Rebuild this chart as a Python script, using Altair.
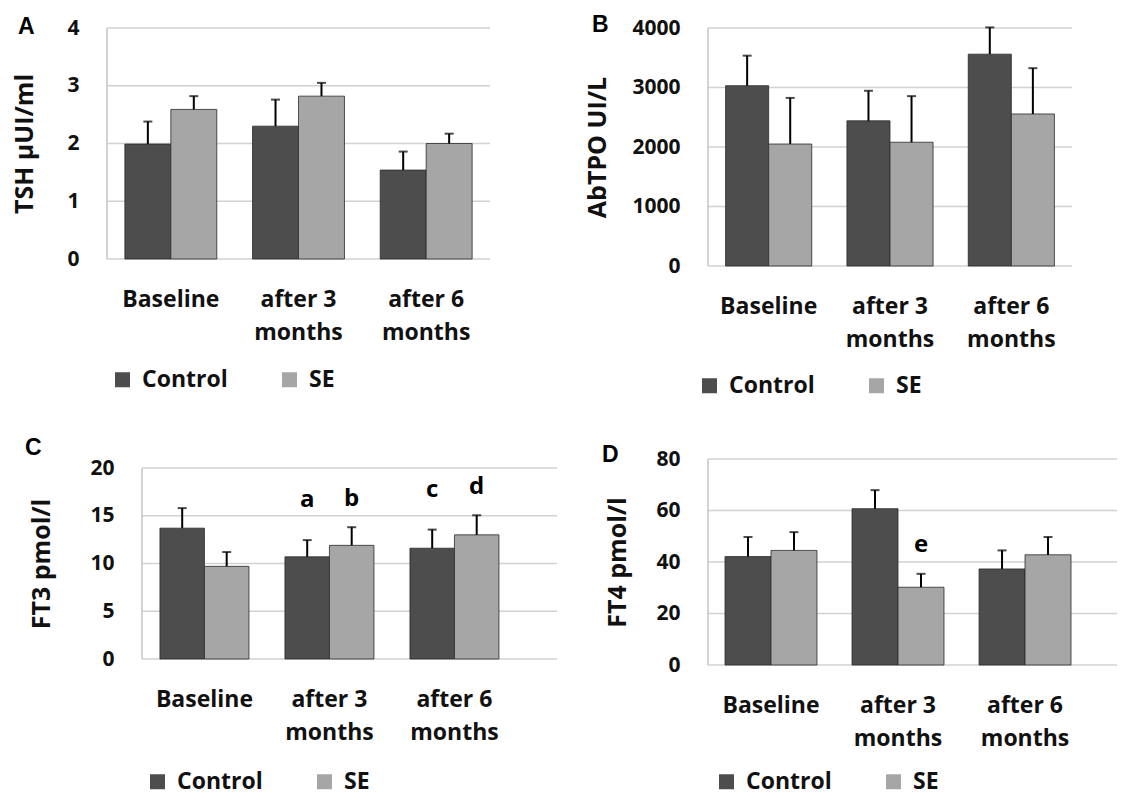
import altair as alt
import pandas as pd

# ---------------- data ----------------
timepoints = ["Baseline", "after 3 months", "after 6 months"]
groups = ["Control", "SE"]
panel_letters = ["A", "B", "C", "D"]
y_titles = ["TSH µUI/ml", "AbTPO UI/L", "FT3 pmol/l", "FT4 pmol/l"]

tsh_control = [1.99, 2.30, 1.54]
tsh_control_sd = [0.39, 0.46, 0.32]
tsh_se = [2.59, 2.82, 2.00]
tsh_se_sd = [0.23, 0.23, 0.17]
tsh_ticks = [0, 1, 2, 3, 4]

tpo_control = [3030, 2440, 3560]
tpo_control_sd = [505, 505, 450]
tpo_se = [2050, 2080, 2555]
tpo_se_sd = [775, 775, 770]
tpo_ticks = [0, 1000, 2000, 3000, 4000]

ft3_control = [13.7, 10.7, 11.6]
ft3_control_sd = [2.1, 1.75, 1.95]
ft3_se = [9.7, 11.9, 13.0]
ft3_se_sd = [1.5, 1.9, 2.05]
ft3_ticks = [0, 5, 10, 15, 20]
ft3_note_text = ["a", "b", "c", "d"]
ft3_note_time = ["after 3 months", "after 3 months", "after 6 months", "after 6 months"]
ft3_note_group = ["Control", "SE", "Control", "SE"]
ft3_note_y = [15.9, 16.0, 17.0, 17.3]

ft4_control = [42.1, 60.7, 37.3]
ft4_control_sd = [7.6, 7.2, 7.2]
ft4_se = [44.5, 30.2, 42.8]
ft4_se_sd = [7.1, 5.2, 6.9]
ft4_ticks = [0, 20, 40, 60, 80]
ft4_note_text = ["e"]
ft4_note_time = ["after 3 months"]
ft4_note_group = ["SE"]
ft4_note_y = [44.0]

FONT = "Open Sans"
DARK = "#4d4d4d"
LIGHT = "#a6a6a6"
GRID = "#d2d2d2"


def panel(ctrl, ctrl_sd, se, se_sd, ticks, ytitle, letter, letter_xy,
          width, height, ymax, inset, band, legend_xy, title_x, notes=None):
    df = pd.DataFrame({
        "time": timepoints * 2,
        "group": ["Control"] * 3 + ["SE"] * 3,
        "value": ctrl + se,
        "sd": ctrl_sd + se_sd,
    })
    df["upper"] = df["value"] + df["sd"]
    pi, po, al = band
    x = alt.X(
        "time:N", sort=timepoints,
        scale=alt.Scale(domain=timepoints, paddingInner=pi, paddingOuter=po, align=al),
        axis=alt.Axis(
            title=None, labelAngle=0, ticks=False, grid=False, domain=False,
            labelPadding=29, labelFontSize=23, labelLineHeight=33,
            labelBaseline="top",
            labelExpr="datum.label == 'Baseline' ? datum.label : [substring(datum.label, 0, 7), 'months']",
        ),
    )
    xo = alt.XOffset("group:N", sort=groups,
                     scale=alt.Scale(domain=groups, paddingInner=0, paddingOuter=0))
    yscale = alt.Scale(domain=[ticks[0], ymax], nice=False, zero=True)
    yaxis = alt.Axis(values=ticks, format="d", title=ytitle, titleX=title_x,
                     titleY=height - (height * ticks[-1] / ymax) / 2,
                     titleBaseline="middle", titleAngle=270, titleAlign="center",
                     grid=False, domain=False, offset=-inset)
    color = alt.Color(
        "group:N",
        scale=alt.Scale(domain=groups, range=[DARK, LIGHT]),
        legend=alt.Legend(
            orient="none", legendX=legend_xy[0], legendY=legend_xy[1],
            direction="horizontal", title=None, symbolType="square",
            symbolSize=225, symbolStrokeWidth=0, labelFont=FONT,
            labelFontSize=23, labelFontWeight="bold", labelColor="#111",
            labelOffset=8, columnPadding=50, padding=0,
        ),
    )
    # gridlines and left axis line drawn from the tick values
    gdf = pd.DataFrame({"tick": ticks})
    grid = alt.Chart(gdf).mark_rule(color=GRID, strokeWidth=1.5).encode(
        y=alt.Y("tick:Q", scale=yscale), x=alt.value(inset), x2=alt.value(width)
    )
    vdf = pd.DataFrame({"lo": [ticks[0]], "hi": [ticks[-1]]})
    vline = alt.Chart(vdf).mark_rule(color="#c4c4c4", strokeWidth=1.5).encode(
        y=alt.Y("lo:Q", scale=yscale), y2="hi:Q", x=alt.value(inset)
    )
    base = alt.Chart(df)
    bars = base.mark_bar(stroke="#2a2a2a", strokeWidth=0.8).encode(
        x=x, xOffset=xo, y=alt.Y("value:Q", scale=yscale, axis=yaxis), color=color
    )
    err = base.mark_rule(color="#000", strokeWidth=2).encode(
        x=x, xOffset=xo, y=alt.Y("value:Q", scale=yscale), y2="upper:Q"
    )
    cap = base.mark_tick(color="#000", thickness=2, size=9).encode(
        x=x, xOffset=xo, y=alt.Y("upper:Q", scale=yscale)
    )
    lab = alt.Chart(pd.DataFrame({"letter": [letter]})).mark_text(
        font="Liberation Sans", fontSize=23, fontWeight="bold", align="left",
        baseline="alphabetic", color="#000"
    ).encode(x=alt.value(letter_xy[0]), y=alt.value(letter_xy[1]), text="letter:N")
    layers = [grid, vline, bars, err, cap, lab]
    if notes is not None:
        ndf = pd.DataFrame({"time": notes[1], "group": notes[2], "y": notes[3], "t": notes[0]})
        txt = alt.Chart(ndf).mark_text(
            font=FONT, fontSize=24, fontWeight="bold", baseline="alphabetic",
            align="center", color="#000"
        ).encode(x=x, xOffset=xo, y=alt.Y("y:Q", scale=yscale), text="t:N")
        layers.append(txt)
    return alt.layer(*layers).properties(width=width, height=height)


pA = panel(tsh_control, tsh_control_sd, tsh_se, tsh_se_sd, tsh_ticks, y_titles[0],
           panel_letters[0], (-89, 6), 383, 231, 4, 0, (0.28, 0.14, 0.5), (4, 340), -83)
pB = panel(tpo_control, tpo_control_sd, tpo_se, tpo_se_sd, tpo_ticks, y_titles[1],
           panel_letters[1], (-116, 4), 364, 238, 4000, 0, (0.29, 0.145, 0.5), (-10, 346), -111)
pC = panel(ft3_control, ft3_control_sd, ft3_se, ft3_se_sd, ft3_ticks, y_titles[2],
           panel_letters[2], (-82, -4), 450, 200, 20 * 200 / 191, 35,
           (0.288, 0.444, 0.477), (39, 311), -101,
           notes=(ft3_note_text, ft3_note_time, ft3_note_group, ft3_note_y))
pD = panel(ft4_control, ft4_control_sd, ft4_se, ft4_se_sd, ft4_ticks, y_titles[3],
           panel_letters[3], (-106, 3), 409, 206, 80, 0, (0.276, 0.248, 0.27), (7, 311), -91,
           notes=(ft4_note_text, ft4_note_time, ft4_note_group, ft4_note_y))

chart = alt.concat(
    pA, pB, pC, pD,
    columns=2, spacing={"row": 193, "column": 151}, bounds="flush",
).resolve_scale(
    x="independent", y="independent", color="independent", xOffset="independent"
).resolve_legend(color="independent").configure_view(stroke=None).configure_axis(
    labelFont=FONT, titleFont=FONT, labelFontWeight="bold", titleFontWeight="bold",
    labelColor="#111", titleColor="#111", ticks=False,
).configure_axisY(
    labelFontSize=21, titleFontSize=25, labelPadding=28,
).properties(
    padding={"left": 4, "top": 6, "right": 0, "bottom": 2},
    background="white",
)

chart.save("out.html", embed_options={"renderer": "svg", "actions": False})
